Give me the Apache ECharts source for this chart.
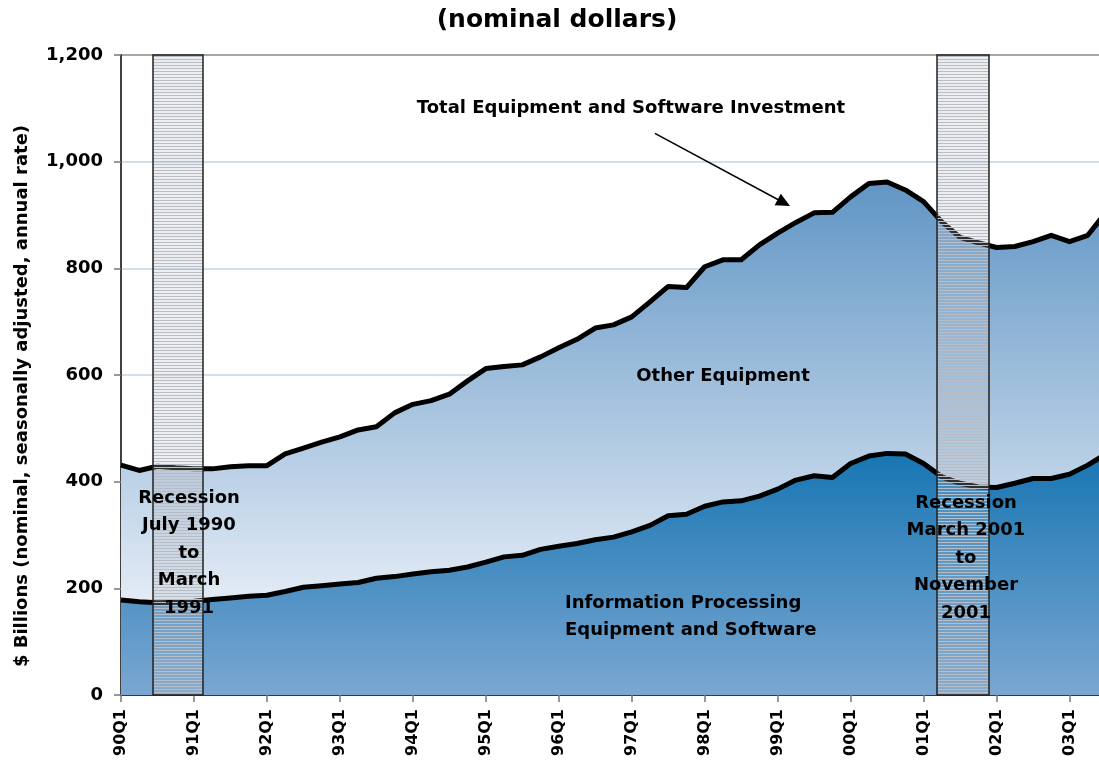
<!DOCTYPE html>
<html>
<head>
    <meta charset="utf-8">
    <script src="https://cdn.jsdelivr.net/npm/echarts@6/dist/echarts.min.js"></script>
</head>
<body style="margin: 0">
<div id="container" style="width: 1099px; height: 774px"></div>
<script type="text/javascript">
    // one label every 4 quarters, quarter 0 = 90Q1
    var yearTicks = ['90Q1', '91Q1', '92Q1', '93Q1', '94Q1', '95Q1', '96Q1',
        '97Q1', '98Q1', '99Q1', '00Q1', '01Q1', '02Q1', '03Q1'];

    // total equipment and software investment, $ billions, 90Q1 .. 03Q3
    var totalInvest = [431, 421, 429, 426, 424, 424, 428, 430, 430, 452,
        463, 474, 484, 497, 503, 529, 545, 552, 564, 589,
        612, 616, 619, 634, 651, 667, 688, 694, 709, 737,
        766, 764, 803, 816, 816, 844, 866, 886, 904, 905,
        934, 959, 962, 947, 925, 887, 858, 848, 839, 841,
        850, 862, 850, 862, 905];

    // information processing equipment and software
    var infoProc = [178, 175, 173, 174, 176, 179, 182, 185, 187, 194,
        202, 205, 208, 211, 219, 222, 227, 231, 234, 240,
        249, 259, 262, 273, 279, 284, 291, 296, 306, 318,
        336, 339, 354, 362, 364, 373, 386, 403, 411, 408,
        434, 448, 453, 452, 434, 409, 397, 390, 389, 397,
        406, 406, 414, 431, 452];

    // recession bands, in quarters from 90Q1
    var recessions = [[1.75, 4.5], [44.75, 47.6]];

    var dom = document.getElementById('container');
    var myChart = echarts.init(dom);
    var font = '"DejaVu Sans", sans-serif';

    function pairs(arr) {
        return arr.map(function (v, i) { return [i, v]; });
    }

    // hatched recession bar: grey horizontal rules with a frame
    function renderBand(params, api) {
        var p0 = api.coord([api.value(0), 1200]);
        var p1 = api.coord([api.value(1), 0]);
        var x0 = Math.round(p0[0]), x1 = Math.round(p1[0]);
        var children = [];
        for (var y = Math.round(p0[1]) + 1; y < p1[1]; y += 3) {
            children.push({
                type: 'line',
                shape: {x1: x0, y1: y + 0.5, x2: x1, y2: y + 0.5},
                style: {stroke: '#b8bcc4', lineWidth: 1.6}
            });
        }
        children.push({
            type: 'rect',
            shape: {x: x0, y: p0[1], width: x1 - x0, height: p1[1] - p0[1]},
            style: {fill: null, stroke: '#222', lineWidth: 1.5}
        });
        return {type: 'group', children: children};
    }

    var option = {
        animation: false,
        backgroundColor: '#fff',
        grid: {left: 121, width: 985, top: 55, bottom: 79, outerBoundsMode: 'none', containLabel: false},
        xAxis: [{
            type: 'value', min: 0, max: 54, interval: 4,
            axisLine: {show: true, lineStyle: {color: '#000', width: 1.5}},
            axisTick: {show: true, length: 7, lineStyle: {color: '#777', width: 1.5}},
            axisLabel: {
                rotate: 90, margin: 14, color: '#000', fontFamily: font,
                fontWeight: 'bold', fontSize: 16,
                formatter: function (v) {
                    return v % 4 === 0 && yearTicks[v / 4] ? yearTicks[v / 4] : '';
                }
            },
            splitLine: {show: false}
        }, {
            type: 'value', min: 0, max: 54, interval: 1, position: 'bottom',
            axisLine: {show: false},
            axisTick: {show: true, inside: true, length: 4, lineStyle: {color: '#555'}},
            axisLabel: {show: false},
            splitLine: {show: false}
        }],
        yAxis: {
            type: 'value', min: 0, max: 1200, interval: 200,
            axisLine: {show: true, lineStyle: {color: '#000', width: 1.5}},
            axisTick: {show: true, length: 7, lineStyle: {color: '#777', width: 1.5}},
            axisLabel: {
                margin: 18, color: '#000', fontFamily: font, fontWeight: 'bold', fontSize: 18,
                formatter: function (v) { return v.toLocaleString('en-US'); }
            },
            splitLine: {
                show: true,
                lineStyle: {
                    width: 1.5,
                    color: ['#c4d4e8', '#c4d4e8', '#c4d4e8', '#c4d4e8', '#c4d4e8', '#c4d4e8', '#8a8a8a']
                }
            }
        },
        series: [
            {
                name: 'Total', type: 'line', data: pairs(totalInvest), z: 2,
                symbol: 'none',
                lineStyle: {color: '#000', width: 5, join: 'round'},
                areaStyle: {
                    opacity: 1,
                    color: {
                        type: 'linear', x: 0, y: 170, x2: 0, y2: 600, global: true,
                        colorStops: [{offset: 0, color: '#5d93c4'}, {offset: 1, color: '#e3ebf5'}]
                    }
                },
                markLine: {
                    silent: true,
                    symbol: ['none', 'triangle'],
                    symbolSize: [13, 14],
                    label: {show: false},
                    lineStyle: {color: '#000', width: 1.5, type: 'solid'},
                    data: [[{coord: [29.27, 1053]}, {coord: [36.34, 923]}]]
                }
            },
            {
                name: 'Info', type: 'line', data: pairs(infoProc), z: 3,
                symbol: 'none',
                lineStyle: {color: '#000', width: 5, join: 'round'},
                areaStyle: {
                    opacity: 1,
                    color: {
                        type: 'linear', x: 0, y: 450, x2: 0, y2: 695, global: true,
                        colorStops: [{offset: 0, color: '#1675b3'}, {offset: 1, color: '#7ba7d1'}]
                    }
                }
            },
            {
                name: 'Recession', type: 'custom', z: 10, silent: true,
                data: recessions,
                encode: {x: [0, 1]},
                renderItem: renderBand
            }
        ],
        graphic: [
            {type: 'text', z: 100, x: 557, y: 20, style: {text: '(nominal dollars)', align: 'center', verticalAlign: 'middle', font: 'bold 25px ' + font, fill: '#000'}},
            {type: 'text', z: 100, x: 22, y: 396, rotation: Math.PI / 2, style: {text: '$ Billions (nominal, seasonally adjusted, annual rate)', align: 'center', verticalAlign: 'middle', font: 'bold 18px ' + font, fill: '#000'}},
            {type: 'text', z: 100, x: 631, y: 108, style: {text: 'Total Equipment and Software Investment', align: 'center', verticalAlign: 'middle', font: 'bold 18px ' + font, fill: '#000'}},
            {type: 'text', z: 100, x: 723, y: 376, style: {text: 'Other Equipment', align: 'center', verticalAlign: 'middle', font: 'bold 18px ' + font, fill: '#000'}},
            {type: 'text', z: 100, x: 565, y: 617, style: {text: 'Information Processing\nEquipment and Software', align: 'left', verticalAlign: 'middle', lineHeight: 27, font: 'bold 18px ' + font, fill: '#000'}},
            {type: 'text', z: 100, x: 189, y: 553, style: {text: 'Recession\nJuly 1990\nto\nMarch\n1991', align: 'center', verticalAlign: 'middle', lineHeight: 27.5, font: 'bold 18px ' + font, fill: '#000'}},
            {type: 'text', z: 100, x: 966, y: 558, style: {text: 'Recession\nMarch 2001\nto\nNovember\n2001', align: 'center', verticalAlign: 'middle', lineHeight: 27.5, font: 'bold 18px ' + font, fill: '#000'}}
        ]
    };
    myChart.setOption(option, true);
</script>
</body>
</html>
